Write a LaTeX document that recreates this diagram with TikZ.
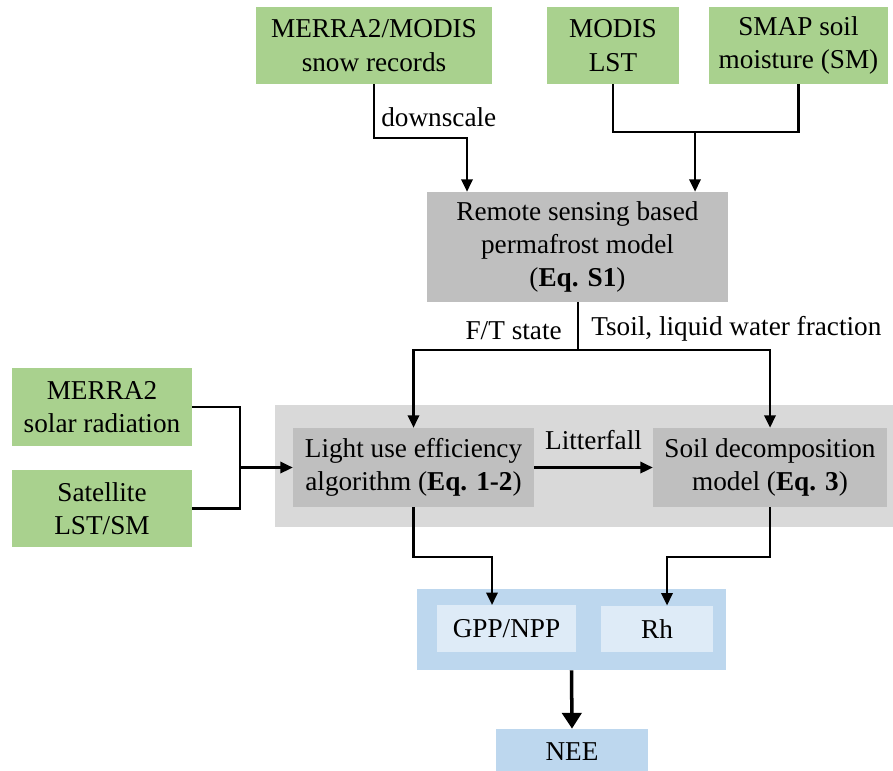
\documentclass[tikz,border=0pt]{standalone}
\usepackage{fontspec}
\setmainfont{Liberation Serif}
\usetikzlibrary{positioning, arrows.meta}

\definecolor{srcgreen}{HTML}{A9D18E}
\definecolor{modgray}{HTML}{BFBFBF}
\definecolor{grpgray}{HTML}{D9D9D9}
\definecolor{outblue}{HTML}{BDD7EE}
\definecolor{inblue}{HTML}{DEEBF7}

\begin{document}
\begin{tikzpicture}
  [x=0.02cm, y=-0.02cm, font=\fontsize{15.5}{19}\selectfont,
   box/.style={align=center, inner sep=0pt},
   src/.style={box, fill=srcgreen, minimum height=1.54cm},
   model/.style={box, fill=modgray},
   flux/.style={box, fill=inblue, minimum height=0.93cm},
   line/.style={line width=1.3pt},
   arr/.style={line, -{Triangle[length=7pt,width=6.5pt]}},
   lbl/.style={inner sep=0pt}]
  \useasboundingbox (0,0) rectangle (893,771);

  % data sources
  \node[src, minimum width=4.72cm] (snow) at (374,45.5) {MERRA2/MODIS\\snow records};
  \node[src, minimum width=2.64cm] (modis) at (613,45.5) {MODIS\\LST};
  \node[src, minimum width=3.58cm] (smap) at (798.5,45.5) {SMAP soil\\moisture (SM)};
  \node[src, minimum width=3.6cm, minimum height=1.56cm] (merra) at (102,407) {MERRA2\\solar radiation};
  \node[src, minimum width=3.6cm] (sat) at (102,508.5) {Satellite\\LST/SM};

  % models
  \node[model, minimum width=6.02cm, minimum height=2.2cm] (perma) at (577.5,247)
    {Remote sensing based\\permafrost model\\(\textbf{Eq. S1})};
  \node[fill=grpgray, minimum width=12.36cm, minimum height=2.44cm] (grp) at (584,466) {};
  \node[model, minimum width=4.82cm, minimum height=1.58cm] (lue) at (413.5,467.5)
    {Light use efficiency\\algorithm (\textbf{Eq. 1-2})};
  \node[model, minimum width=4.68cm, minimum height=1.58cm] (soil) at (770,467.5)
    {Soil decomposition\\model (\textbf{Eq. 3})};

  % fluxes
  \node[fill=outblue, minimum width=6.18cm, minimum height=1.62cm] (flx) at (571.5,629.5) {};
  \node[flux, minimum width=2.78cm] (gpp) at (506.5,628.5) {GPP/NPP};
  \node[flux, minimum width=2.24cm] (rh) at (657,629) {Rh};
  \node[box, fill=outblue, minimum width=3.04cm, minimum height=0.92cm] (nee) at (572,752) {NEE};

  % connectors
  \coordinate (j1) at (467,138);
  \coordinate (j2) at (695,132);
  \coordinate (j3) at (578,350);
  \coordinate (j4) at (240,467.5);
  \coordinate (j5) at (492,557);
  \coordinate (j6) at (667,557);

  \draw[arr] (snow.south) |- (j1) -- (j1 |- perma.north);
  \node[lbl, anchor=west] (dsc) at (381,117) {downscale};
  \draw[line] (modis.south) |- (j2) -| (smap.south);
  \draw[arr] (j2) -- (j2 |- perma.north);

  \draw[line] (j3 |- perma.south) -- (j3);
  \draw[arr] (j3) -| (lue.north);
  \draw[arr] (j3) -| (soil.north);
  \node[lbl, anchor=east] (ft) at (562,331) {F/T state};
  \node[lbl, anchor=west] (ts) at (591,329) {Tsoil, liquid water fraction};

  \draw[line] (merra.east) -| (j4);
  \draw[line] (sat.east) -| (j4);
  \draw[arr] (j4) -- (lue.west);
  \draw[arr] (lue.east) -- node[above=6pt] {Litterfall} (soil.west);

  \draw[arr] (lue.south) |- (j5) -- (j5 |- gpp.north);
  \draw[arr] (soil.south) |- (j6) -- (j6 |- rh.north);
  \draw[line width=2pt, -{Triangle[length=9pt,width=11pt]}] (flx.south) -- (nee.north);
\end{tikzpicture}
\end{document}
